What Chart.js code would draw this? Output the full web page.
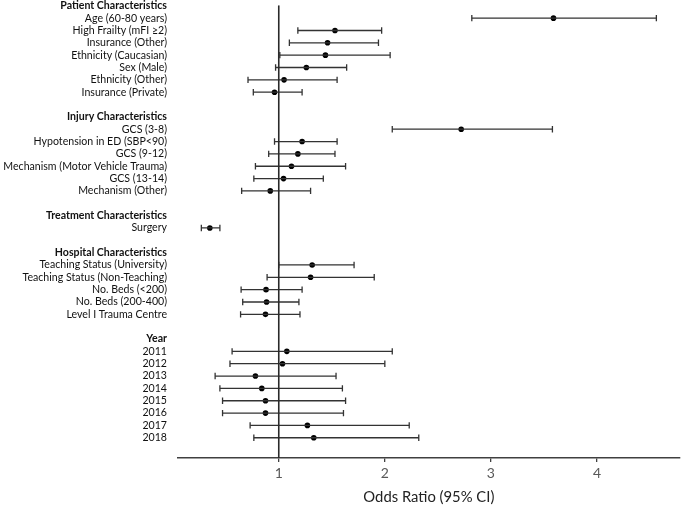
<!DOCTYPE html>
<html>
<head>
<meta charset="utf-8">
<script src="https://cdn.jsdelivr.net/npm/chart.js@4.4.1/dist/chart.umd.min.js"></script>
<style>
  body { margin: 0; background: #fff; }
  #wrap { width: 685px; height: 506px; position: relative; }
</style>
</head>
<body>
<div id="wrap"><canvas id="forest"></canvas></div>
<script>
// rows from top to bottom, '' = spacer row
var rowLabels = [
  "Patient Characteristics",
  "Age (60-80 years)", "High Frailty (mFI \u22652)", "Insurance (Other)", "Ethnicity (Caucasian)",
  "Sex (Male)", "Ethnicity (Other)", "Insurance (Private)",
  "",
  "Injury Characteristics",
  "GCS (3-8)", "Hypotension in ED (SBP<90)", "GCS (9-12)", "Mechanism (Motor Vehicle Trauma)",
  "GCS (13-14)", "Mechanism (Other)",
  "",
  "Treatment Characteristics",
  "Surgery",
  "",
  "Hospital Characteristics",
  "Teaching Status (University)", "Teaching Status (Non-Teaching)", "No. Beds (<200)",
  "No. Beds (200-400)", "Level I Trauma Centre",
  "",
  "Year",
  "2011", "2012", "2013", "2014", "2015", "2016", "2017", "2018"
];
var headerRows = [0, 9, 17, 20, 27];

// odds ratio and 95% CI, null for headers / spacers
var oddsRatio = [null, 3.59, 1.53, 1.46, 1.44, 1.26, 1.05, 0.96, null,
  null, 2.72, 1.22, 1.18, 1.12, 1.045, 0.92, null,
  null, 0.35, null,
  null, 1.315, 1.30, 0.88, 0.885, 0.875, null,
  null, 1.076, 1.035, 0.78, 0.84, 0.875, 0.875, 1.27, 1.33];
var ciLower = [null, 2.82, 1.18, 1.10, 1.01, 0.97, 0.71, 0.76, null,
  null, 2.07, 0.96, 0.905, 0.78, 0.765, 0.65, null,
  null, 0.27, null,
  null, 1.0, 0.89, 0.645, 0.66, 0.64, null,
  null, 0.56, 0.54, 0.40, 0.445, 0.47, 0.47, 0.73, 0.765];
var ciUpper = [null, 4.56, 1.97, 1.94, 2.05, 1.64, 1.55, 1.22, null,
  null, 3.58, 1.55, 1.53, 1.63, 1.42, 1.30, null,
  null, 0.445, null,
  null, 1.71, 1.90, 1.22, 1.19, 1.20, null,
  null, 2.07, 2.0, 1.54, 1.60, 1.63, 1.61, 2.23, 2.32];
var xTicks = [1, 2, 3, 4];

var yMin = -0.04, yMax = 36.64;

var whiskers = [], points = [];
for (var i = 0; i < rowLabels.length; i++) {
  if (oddsRatio[i] == null) continue;
  whiskers.push({x: ciLower[i], y: i}, {x: ciUpper[i], y: i}, {x: null, y: null});
  points.push({x: oddsRatio[i], y: i});
}

var fontFam = "Lato, 'DejaVu Sans', sans-serif";

new Chart("forest", {
  type: "scatter",
  data: {
    datasets: [
      {
        data: [{x: 1, y: yMin}, {x: 1, y: yMax}],
        showLine: true, borderColor: "#2a2a2a", borderWidth: 1.6, pointRadius: 0
      },
      {
        data: whiskers,
        showLine: true, spanGaps: false,
        borderColor: "#333", borderWidth: 1.3,
        pointStyle: "line", rotation: 90, pointRadius: 3.2, pointBorderWidth: 1.3
      },
      {
        data: points,
        pointRadius: 2.8, backgroundColor: "#000", borderWidth: 0
      }
    ]
  },
  options: {
    responsive: true,
    maintainAspectRatio: false,
    animation: false,
    layout: {padding: 0},
    plugins: {legend: {display: false}, tooltip: {enabled: false}},
    scales: {
      x: {
        type: "linear", min: 0.05, max: 4.78,
        afterBuildTicks: function (s) { s.ticks = xTicks.map(function (v) { return {value: v}; }); },
        afterFit: function (s) { s.height = 48; s.paddingLeft = 0; s.paddingRight = 0; },
        ticks: {color: "#595959", font: {family: fontFam, size: 14}, padding: 3},
        grid: {drawOnChartArea: false, drawTicks: true, tickLength: 4, color: "#404040", lineWidth: 1.3},
        border: {color: "#404040", width: 1.5},
        title: {display: true, text: "Odds Ratio (95% CI)", color: "#222",
          font: {family: fontFam, size: 14.8}, padding: {top: 2, bottom: 0}}
      },
      y: {
        type: "linear", reverse: true, min: yMin, max: yMax,
        afterBuildTicks: function (s) { s.ticks = rowLabels.map(function (_, k) { return {value: k}; }); },
        afterFit: function (s) { s.width = 178; s.paddingTop = 0; s.paddingBottom = 0; },
        ticks: {
          autoSkip: false, padding: 3, color: "#111",
          callback: function (v) { return rowLabels[v]; },
          font: function (ctx) {
            var bold = ctx.tick && headerRows.indexOf(ctx.tick.value) >= 0;
            return {family: fontFam, size: 10.6, weight: bold ? "bold" : "normal"};
          }
        },
        grid: {display: false},
        border: {display: false}
      }
    }
  }
});
</script>
</body>
</html>
